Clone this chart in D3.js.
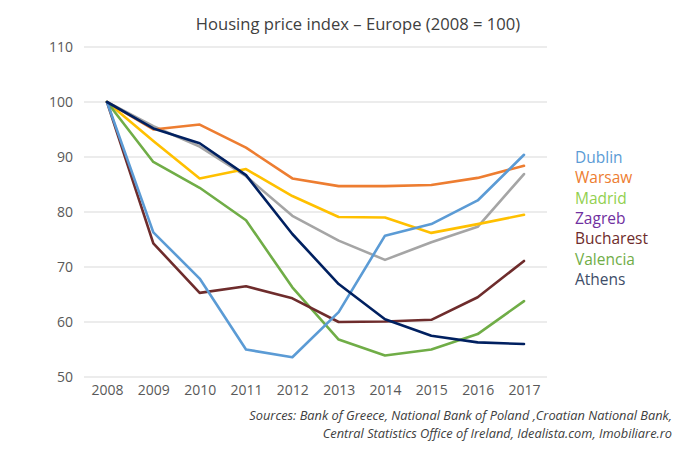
<!DOCTYPE html>
<html><head><meta charset="utf-8">
<script src="https://cdn.jsdelivr.net/npm/d3@7"></script>
<style>body{margin:0;background:#fff;} svg{display:block;}</style>
</head><body>
<svg id="chart" width="693" height="453"></svg>
<script>
const years = ["2008","2009","2010","2011","2012","2013","2014","2015","2016","2017"];
const yTicks = [50,60,70,80,90,100,110];
const dublin    = [100,76.3,67.9,55.0,53.6,61.8,75.7,77.8,82.1,90.4];
const warsaw    = [100,95.0,95.9,91.7,86.1,84.7,84.7,84.9,86.2,88.4];
const greyLine  = [100,95.6,91.9,86.5,79.3,74.8,71.3,74.5,77.3,86.9];
const yellowLine= [100,92.9,86.1,87.8,82.9,79.1,79.0,76.2,77.8,79.5];
const bucharest = [100,74.3,65.3,66.5,64.3,60.0,60.1,60.4,64.5,71.1];
const valencia  = [100,89.1,84.4,78.5,66.3,56.8,53.9,55.0,57.8,63.8];
const athens    = [100,95.2,92.5,86.7,76.0,66.9,60.5,57.5,56.3,56.0];
const legendNames  = ["Dublin","Warsaw","Madrid","Zagreb","Bucharest","Valencia","Athens"];
const legendColors = ["#5B9BD5","#ED7D31","#92D050","#7030A0","#6E2C2C","#70AD47","#3E4D68"];
const title = "Housing price index \u2013 Europe (2008 = 100)";
const sources = ["Sources: Bank of Greece, National Bank of Poland ,Croatian National Bank,",
                 "Central Statistics Office of Ireland, Idealista.com, Imobiliare.ro"];

const series = [
  {values: greyLine,   color:"#A5A5A5"},
  {values: yellowLine, color:"#FFC000"},
  {values: warsaw,     color:"#ED7D31"},
  {values: valencia,   color:"#70AD47"},
  {values: bucharest,  color:"#6E2C2C"},
  {values: dublin,     color:"#5B9BD5"},
  {values: athens,     color:"#002060"}
];

const svg = d3.select("#chart");
const font = "'Open Sans', 'Noto Sans', sans-serif";
const x = d3.scalePoint().domain(years).range([107, 524]);
const y = d3.scaleLinear().domain([50,110]).range([377, 47]);

svg.append("g").selectAll("line").data(yTicks).join("line")
  .attr("x1",84).attr("x2",547)
  .attr("y1",d=>y(d)).attr("y2",d=>y(d))
  .attr("stroke","#d9d9d9").attr("stroke-width",1);

const yAxis = d3.axisLeft(y).tickValues(yTicks).tickSize(0).tickPadding(0);
const gy = svg.append("g").attr("transform","translate(73,0)").call(yAxis);
gy.select(".domain").remove();
gy.selectAll("text").attr("fill","#595959").style("font-family",font).style("font-size","14px");

const xAxis = d3.axisBottom(x).tickSize(0).tickPadding(0);
const gx = svg.append("g").attr("transform","translate(0,385)").call(xAxis);
gx.select(".domain").remove();
gx.selectAll("text").attr("fill","#595959").style("font-family",font).style("font-size","14px");

const line = d3.line().x((d,i)=>x(years[i])).y(d=>y(d));
svg.append("g").selectAll("path").data(series).join("path")
  .attr("d",d=>line(d.values))
  .attr("fill","none").attr("stroke",d=>d.color)
  .attr("stroke-width",2.6).attr("stroke-linejoin","round").attr("stroke-linecap","round");

svg.append("text").attr("x",358).attr("y",30).attr("text-anchor","middle")
  .attr("fill","#404040").style("font-family",font).style("font-size","16.6px").text(title);

svg.append("g").selectAll("text").data(legendNames).join("text")
  .attr("x",575).attr("y",(d,i)=>163+i*20.3)
  .attr("fill",(d,i)=>legendColors[i])
  .style("font-family",font).style("font-size","15.5px").text(d=>d);

svg.append("g").selectAll("text").data(sources).join("text")
  .attr("x",672).attr("y",(d,i)=>420+i*17.6).attr("text-anchor","end")
  .attr("fill","#404040").style("font-family",font).style("font-size","12.8px").style("font-style","italic")
  .text(d=>d);
</script>
</body></html>
